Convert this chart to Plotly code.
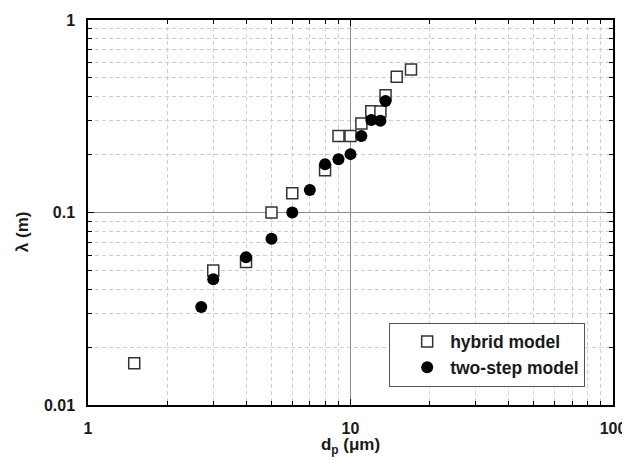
import plotly.graph_objects as go

hyb_x = [1.5, 3, 4, 5, 6, 8, 9, 10, 11, 12, 13, 13.6, 15, 17]
hyb_y = [0.0165, 0.050, 0.0553, 0.100, 0.126, 0.166, 0.25, 0.25, 0.29, 0.336, 0.335, 0.407, 0.507, 0.553]
two_x = [2.7, 3, 4, 5, 6, 7, 8, 9, 10, 11, 12, 13, 13.6]
two_y = [0.0323, 0.045, 0.0586, 0.073, 0.100, 0.131, 0.178, 0.189, 0.201, 0.25, 0.302, 0.30, 0.38]

x_major = [1, 10, 100]
x_major_text = ["1", "10", "100"]
y_major = [0.01, 0.1, 1]
y_major_text = ["0.01", "0.1", "1"]
x_minor = [m * d for d in (1, 10) for m in range(2, 10)]
y_minor = [m * d for d in (0.01, 0.1) for m in range(2, 10)]

FONT = "Liberation Sans, Arial, sans-serif"
TXT = "#1a1a1a"

fig = go.Figure()
fig.add_trace(go.Scatter(
    x=hyb_x, y=hyb_y, mode="markers", name="<b>hybrid model</b>",
    marker=dict(symbol="square", size=11, color="white",
                line=dict(color="#333333", width=1.5)),
))
fig.add_trace(go.Scatter(
    x=two_x, y=two_y, mode="markers", name="<b>two-step model</b>",
    marker=dict(symbol="circle", size=12, color="black",
                line=dict(color="black", width=0)),
))

axis_common = dict(
    type="log", showline=True, linecolor="black", linewidth=1.5,
    mirror="ticks", ticks="inside", ticklen=6, tickwidth=1.2, tickcolor="black",
    showgrid=True, gridcolor="#8c8c8c", gridwidth=1,
    zeroline=False, ticklabelstandoff=8, automargin=False,
    ticklabeloverflow="allow",
    tickfont=dict(family=FONT, size=16, color=TXT),
)
minor_common = dict(tickmode="array", ticks="inside", ticklen=4, tickwidth=1,
                    tickcolor="black", showgrid=True, gridcolor="#cfcfcf",
                    griddash="4px,3px", gridwidth=1)

fig.update_xaxes(
    **axis_common, range=[0, 2], tickmode="array", tickvals=x_major,
    ticktext=["<b>%s</b>" % t for t in x_major_text],
    minor=dict(**minor_common, tickvals=x_minor),
    title=dict(text="<b>d<sub>p</sub> (μm)</b>", font=dict(family=FONT, size=17, color=TXT), standoff=5),
)
fig.update_yaxes(
    **axis_common, range=[-2, 0], tickmode="array", tickvals=y_major,
    ticktext=["<b>%s</b>" % t for t in y_major_text],
    minor=dict(**minor_common, tickvals=y_minor),
)

fig.add_annotation(
    text="<b>λ (m)</b>", textangle=-90, showarrow=False,
    xref="paper", yref="paper", x=-0.1257, y=0.449,
    xanchor="center", yanchor="middle",
    font=dict(family=FONT, size=17, color=TXT),
)

fig.update_layout(
    width=622, height=449,
    margin=dict(l=80, r=17, t=12, b=52),
    plot_bgcolor="white", paper_bgcolor="white",
    showlegend=True,
    legend=dict(x=0.947, y=0.048, xanchor="right", yanchor="bottom",
                bgcolor="white", bordercolor="#555", borderwidth=1,
                font=dict(family=FONT, size=17.5, color=TXT),
                itemwidth=36, indentation=14, tracegroupgap=0),
)

fig.write_html("out.html")
